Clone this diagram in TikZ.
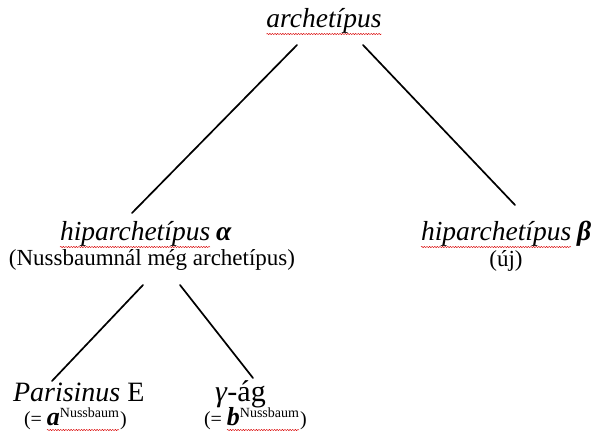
\documentclass[tikz,border=0pt]{standalone}
\usepackage{fontspec}
\setmainfont{Liberation Serif}
\usetikzlibrary{decorations.pathmorphing}
\begin{document}
\begin{tikzpicture}[x=1pt,y=-1pt,
  every node/.style={inner sep=0pt,outer sep=0pt},
  itl/.style={anchor=base west,font=\fontsize{27.5}{30}\selectfont\itshape},
  rml/.style={anchor=base,font=\fontsize{23}{26}\selectfont},
  big/.style={anchor=base west,text depth=0pt,font=\fontsize{28}{30}\selectfont},
  small/.style={anchor=base west,text height=12pt,font=\fontsize{20}{22}\selectfont},
  supx/.style={anchor=base west,text height=9pt,font=\fontsize{14}{15}\selectfont},
  edge/.style={line width=1.7pt,line cap=round},
  spell/.style={red!85!black,line width=0.45pt,decorate,
    decoration={snake,segment length=2.6pt,amplitude=0.6pt}}]
\useasboundingbox (0,0) rectangle (594,436);
% top
\node[itl,anchor=base] (arch) at (324,28) {archetípus};
% hiparchetipus alpha
\node[itl] (hipa) at (60,240) {hiparchetípus};
\node[itl,anchor=base west] (alpha) at ([xshift=6pt]hipa.base east) {\bfseries α};
\node[rml] (hipanote) at (152,265) {(Nussbaumnál még archetípus)};
% hiparchetipus beta
\node[itl] (hipb) at (421,240) {hiparchetípus};
\node[itl,anchor=base west] (beta) at ([xshift=6pt]hipb.base east) {\bfseries β};
\node[rml] (uj) at (506,266) {(új)};
% leaves
\node[big] (par) at (13,401) {\textit{Parisinus} E};
\node[big,font=\fontsize{30}{32}\selectfont] (gam) at (215,401) {\textit{γ}-ág};
\node[small] (parL) at (24,425) {(=};
\node[small,anchor=base west] (parA) at ([xshift=5pt]parL.base east) {\fontsize{26}{26}\selectfont\textbf{\textit{a}}};
\node[supx] (parS) at ([yshift=8pt]parA.base east) {Nussbaum};
\node[small] (parR) at ([xshift=1pt]parA.base -| parS.base east) {)};
\node[small] (gamL) at (204,425) {(=};
\node[small,anchor=base west] (gamB) at ([xshift=5pt]gamL.base east) {\fontsize{26}{26}\selectfont\textbf{\textit{b}}};
\node[supx] (gamS) at ([yshift=8pt]gamB.base east) {Nussbaum};
\node[small] (gamR) at ([xshift=1pt]gamB.base -| gamS.base east) {)};
% connectors
\coordinate (e1a) at (297,45);
\coordinate (e1b) at (132,213);
\coordinate (e2a) at (363,45);
\coordinate (e2b) at (515,205);
\coordinate (e3a) at (143,285);
\coordinate (e3b) at (52,381);
\coordinate (e4a) at (180,285);
\coordinate (e4b) at (253,378);
\draw[edge] (e1a) -- (e1b);
\draw[edge] (e2a) -- (e2b);
\draw[edge] (e3a) -- (e3b);
\draw[edge] (e4a) -- (e4b);
% spell-check underlines
\draw[spell] ([yshift=-6pt]arch.base west) -- ([yshift=-6pt]arch.base east);
\draw[spell] ([yshift=-7pt]hipa.base west) -- ([yshift=-7pt]hipa.base east);
\draw[spell] ([yshift=-7pt]hipb.base west) -- ([yshift=-7pt]hipb.base east);
\draw[spell] ([yshift=-5pt]parA.base west) -- ([yshift=-5pt]parA.base -| parS.base east);
\draw[spell] ([yshift=-5pt]gamB.base west) -- ([yshift=-5pt]gamB.base -| gamS.base east);
\end{tikzpicture}
\end{document}
